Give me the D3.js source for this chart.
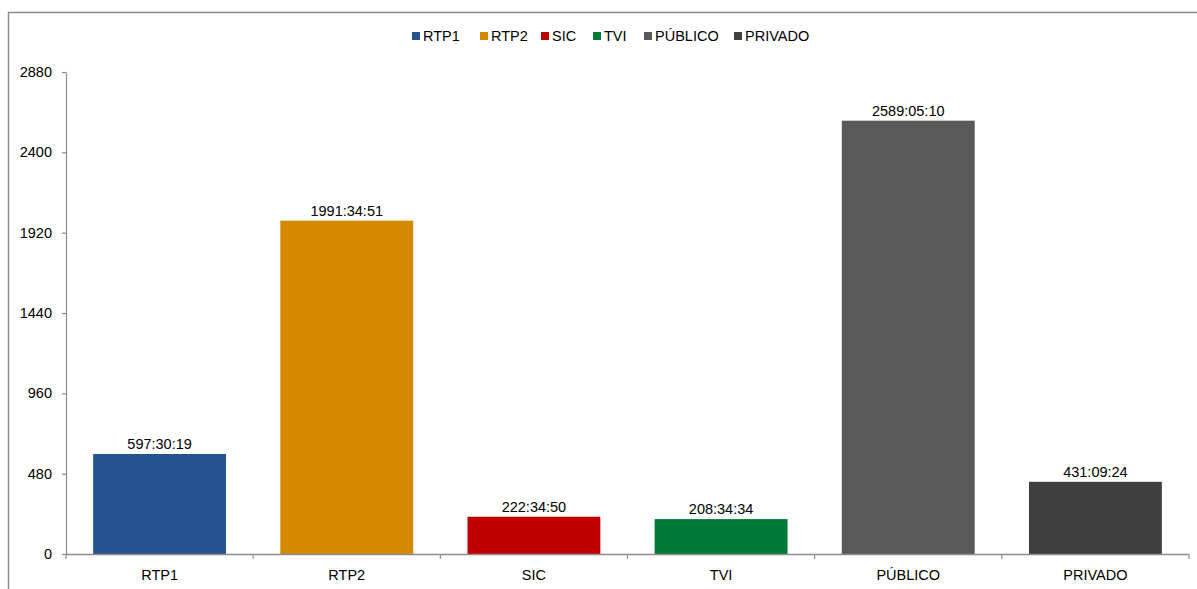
<!DOCTYPE html>
<html>
<head>
<meta charset="utf-8">
<script src="https://cdn.jsdelivr.net/npm/d3@7/dist/d3.min.js"></script>
<style>
  html, body { margin: 0; padding: 0; background: #fff; }
  svg { display: block; font-family: "Liberation Sans", Arial, sans-serif; }
</style>
</head>
<body>
<svg id="chart" width="1197" height="589"></svg>
<script>
// Data
const categories = ["RTP1", "RTP2", "SIC", "TVI", "PÚBLICO", "PRIVADO"];
const durationLabels = ["597:30:19", "1991:34:51", "222:34:50", "208:34:34", "2589:05:10", "431:09:24"];
const colors = ["#23548f", "#d38a00", "#c00000", "#007a37", "#595959", "#404040"];
const yTicks = [0, 480, 960, 1440, 1920, 2400, 2880];

function toHours(s) {
  const [h, m, sec] = s.split(":").map(Number);
  return h + m / 60 + sec / 3600;
}
const values = durationLabels.map(toHours);

const svg = d3.select("#chart");
const x0 = 66, x1 = 1189, y0 = 554, y1 = 72;
const FS = 14.5;

// Outer frame
svg.append("rect")
  .attr("x", 8.5).attr("y", 12.5)
  .attr("width", 1300).attr("height", 700)
  .attr("fill", "none").attr("stroke", "#8c8c8c").attr("stroke-width", 1.5);

const x = d3.scaleBand().domain(categories).range([x0, x1]).paddingInner(0.29).paddingOuter(0.145);
const xb = d3.scaleBand().domain(categories).range([x0, x1]);
const y = d3.scaleLinear().domain([0, 2880]).range([y0, y1]);

// Y axis
const yAxis = svg.append("g").attr("transform", `translate(${x0},0)`)
  .call(d3.axisLeft(y).tickValues(yTicks).tickFormat(d3.format("d")).tickSize(4).tickSizeOuter(0).tickPadding(10));
yAxis.select(".domain").attr("stroke", "#8c8c8c").attr("stroke-width", 1.2);
yAxis.selectAll(".tick line").attr("stroke", "#8c8c8c").attr("stroke-width", 1.2);
yAxis.selectAll(".tick text").attr("font-size", FS).attr("fill", "#000")
  .attr("font-family", "Liberation Sans, Arial, sans-serif");

// Bars
svg.append("g").selectAll("rect").data(categories).join("rect")
  .attr("x", d => x(d))
  .attr("width", x.bandwidth())
  .attr("y", (d, i) => y(values[i]))
  .attr("height", (d, i) => y0 - y(values[i]))
  .attr("fill", (d, i) => colors[i]);

// Data labels
svg.append("g").selectAll("text").data(categories).join("text")
  .attr("x", d => x(d) + x.bandwidth() / 2)
  .attr("y", (d, i) => y(values[i]) - 5)
  .attr("text-anchor", "middle")
  .attr("font-size", FS)
  .attr("fill", "#000")
  .text((d, i) => durationLabels[i]);

// X axis
const xg = svg.append("g").attr("transform", `translate(0,${y0})`);
xg.append("line").attr("x1", x0).attr("x2", x1).attr("y1", 0.5).attr("y2", 0.5)
  .attr("stroke", "#8c8c8c").attr("stroke-width", 1.5);
const bounds = categories.map(c => xb(c)).concat([x1]);
xg.selectAll("line.tk").data(bounds).join("line").attr("class", "tk")
  .attr("x1", d => d).attr("x2", d => d).attr("y1", 0).attr("y2", 5)
  .attr("stroke", "#8c8c8c").attr("stroke-width", 1.2);
xg.selectAll("text").data(categories).join("text")
  .attr("x", d => xb(d) + xb.bandwidth() / 2)
  .attr("y", 26)
  .attr("text-anchor", "middle")
  .attr("font-size", FS)
  .attr("fill", "#000")
  .text(d => d);

// Legend
const legendX = [412, 480, 541, 593, 644, 734];
const lg = svg.append("g");
categories.forEach((c, i) => {
  const g = lg.append("g").attr("transform", `translate(${legendX[i]},36)`);
  g.append("rect").attr("x", 0).attr("y", -4).attr("width", 8).attr("height", 8).attr("fill", colors[i]);
  g.append("text").attr("x", 11).attr("y", 5).attr("font-size", FS).attr("fill", "#000").text(c);
});
</script>
</body>
</html>
